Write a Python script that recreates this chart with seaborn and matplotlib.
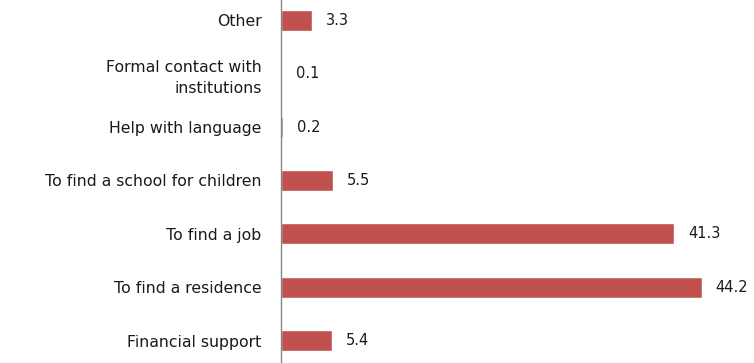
import matplotlib
matplotlib.use("Agg")
import matplotlib.pyplot as plt
import seaborn as sns
import pandas as pd

# ======================
# Data
# ======================
categories = [
    "Other",
    "Formal contact with\ninstitutions",
    "Help with language",
    "To find a school for children",
    "To find a job",
    "To find a residence",
    "Financial support",
]
values = [3.3, 0.1, 0.2, 5.5, 41.3, 44.2, 5.4]

df = pd.DataFrame({"category": categories, "value": values})

sns.set_style("white")
plt.rcParams["font.family"] = ["DejaVu Sans"]

fig = plt.figure(figsize=(7.54, 3.63), dpi=100)
ax = fig.add_axes([281 / 754, 0, 1 - 281 / 754, 1])

sns.barplot(data=df, x="value", y="category", orient="h", color="#C0504D",
            saturation=1, width=0.39, ax=ax)

# value labels
ax.bar_label(ax.containers[0], labels=[f"{v:.1f}" for v in values],
             padding=10, fontsize=10.5, color="#1a1a1a")

ax.set_xlim(0, 49.7)
ax.set_ylim(6.42, -0.38)
ax.set_xlabel("")
ax.set_ylabel("")
ax.set_xticks([])
ax.tick_params(axis="y", length=0, pad=14, labelsize=11.3, labelcolor="#1a1a1a")
for lbl in ax.get_yticklabels():
    lbl.set_linespacing(1.45)

for s in ["top", "right", "bottom"]:
    ax.spines[s].set_visible(False)
ax.spines["left"].set_color("#868686")
ax.spines["left"].set_linewidth(1)

fig.savefig("out.png", dpi=100)
